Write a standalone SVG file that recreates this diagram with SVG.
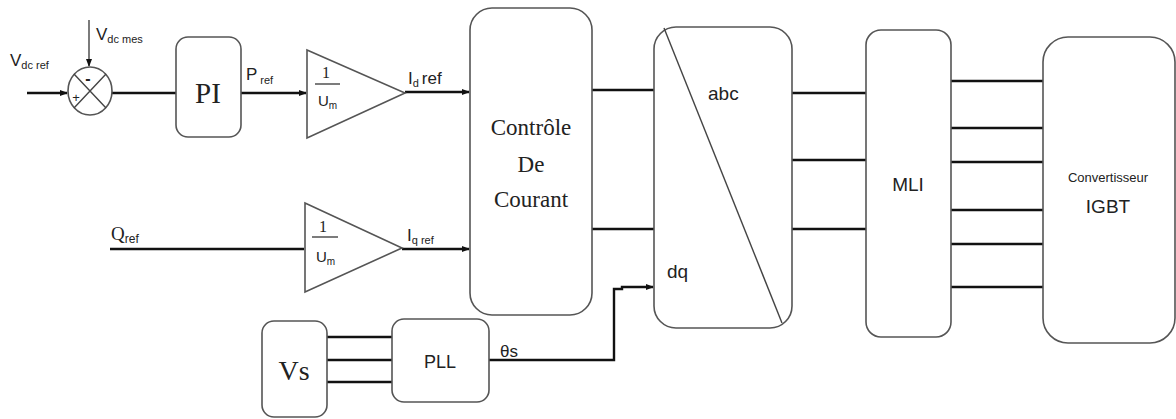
<svg xmlns="http://www.w3.org/2000/svg" width="1176" height="419" viewBox="0 0 1176 419">
<style>
.box{fill:#fff;stroke:#555;stroke-width:1.6}
.w{fill:none;stroke:#111;stroke-width:2.4}
.thin{fill:none;stroke:#444;stroke-width:1.4}
.serif{font-family:"Liberation Serif",serif;fill:#222}
.sans{font-family:"Liberation Sans",sans-serif;fill:#222}
</style>
<defs>
<marker id="ah" markerWidth="8" markerHeight="8" refX="7" refY="4" orient="auto" markerUnits="userSpaceOnUse">
<path d="M0,1 L8,4 L0,7 Z" fill="#111"/>
</marker>
</defs>
<rect width="1176" height="419" fill="#fff"/>

<g id="connectors">
<path class="w" d="M27,93 L67,93" marker-end="url(#ah)"/>
<path class="thin" d="M89,20 L89,66" marker-end="url(#ah)"/>
<path class="w" d="M112,93 L176,93"/>
<path class="w" d="M241,93 L306,93" marker-end="url(#ah)"/>
<path class="w" d="M405,92 L469,92" marker-end="url(#ah)"/>
<path class="w" d="M110,249 L304,249"/>
<path class="w" d="M402,249 L469,249" marker-end="url(#ah)"/>
<path class="w" d="M592,90 L654,90"/>
<path class="w" d="M592,229 L654,229"/>
<path class="w" d="M327,337 L392,337"/>
<path class="w" d="M327,360 L392,360"/>
<path class="w" d="M327,382 L392,382"/>
<path class="w" d="M489,360 L614,360 L614,289 L622,289 L622,287 L653,287" marker-end="url(#ah)"/>
<path class="w" d="M792,93 L866,93"/>
<path class="w" d="M792,160 L866,160"/>
<path class="w" d="M792,229 L866,229"/>
<path class="w" d="M951,81 L1043,81"/>
<path class="w" d="M951,128 L1043,128"/>
<path class="w" d="M951,162 L1043,162"/>
<path class="w" d="M951,210 L1043,210"/>
<path class="w" d="M951,244 L1043,244"/>
<path class="w" d="M951,287 L1043,287"/>
</g>

<g id="labels">
<text x="10" y="66" class="sans" font-size="17">V<tspan font-size="11" dy="3">dc ref</tspan></text>
<text x="96" y="40" class="sans" font-size="17">V<tspan font-size="11" dy="3">dc mes</tspan></text>
<text x="246" y="80" class="sans" font-size="17">P<tspan font-size="11" dy="4" dx="3">ref</tspan></text>
<text x="408" y="84" class="sans" font-size="17">I<tspan font-size="11" dy="3">d</tspan><tspan dy="-3" dx="3">ref</tspan></text>
<text x="407" y="241" class="sans" font-size="17">I<tspan font-size="11" dy="3">q ref</tspan></text>
<text x="111" y="240" class="serif" font-size="19">Q<tspan font-size="12" dy="3" class="sans">ref</tspan></text>
<text x="500" y="357" class="sans" font-size="17">θs</text>
</g>

<g id="sum">
<ellipse cx="90" cy="91" rx="22" ry="24" class="box"/>
<path class="thin" d="M74,74 L106,108 M106,74 L74,108"/>
<text x="88" y="84" class="sans" font-size="16" text-anchor="middle" font-weight="bold">-</text>
<text x="76" y="102" class="sans" font-size="13" text-anchor="middle">+</text>
</g>

<g id="pi">
<rect x="176" y="37" width="65" height="100" rx="12" class="box"/>
<text x="208" y="103" class="serif" font-size="29" text-anchor="middle">PI</text>
</g>

<g id="gain-d">
<path d="M307,50 L405,93 L307,138 Z" class="box"/>
<text x="326" y="78" class="serif" font-size="16" text-anchor="middle">1</text>
<path d="M315,84 L340,84" class="thin"/>
<text x="318" y="106" class="sans" font-size="15">U<tspan font-size="10" dy="3">m</tspan></text>
</g>

<g id="gain-q">
<path d="M305,203 L402,248 L305,292 Z" class="box"/>
<text x="323" y="232" class="serif" font-size="16" text-anchor="middle">1</text>
<path d="M312,237 L338,237" class="thin"/>
<text x="316" y="262" class="sans" font-size="15">U<tspan font-size="10" dy="3">m</tspan></text>
</g>

<g id="controle">
<rect x="470" y="8" width="122" height="307" rx="22" class="box"/>
<text x="531" y="135" class="serif" font-size="23" text-anchor="middle">Contrôle</text>
<text x="531" y="172" class="serif" font-size="23" text-anchor="middle">De</text>
<text x="531" y="207" class="serif" font-size="23" text-anchor="middle">Courant</text>
</g>

<g id="abcdq">
<rect x="654" y="27" width="138" height="301" rx="22" class="box"/>
<path d="M664,28 L782,323" class="thin"/>
<text x="708" y="100" class="sans" font-size="19">abc</text>
<text x="667" y="278" class="sans" font-size="19">dq</text>
</g>

<g id="mli">
<rect x="866" y="30" width="85" height="307" rx="15" class="box"/>
<text x="908" y="191" class="sans" font-size="19" text-anchor="middle">MLI</text>
</g>

<g id="convertisseur">
<rect x="1043" y="37" width="132" height="306" rx="25" class="box"/>
<text x="1108" y="182" class="sans" font-size="13" text-anchor="middle">Convertisseur</text>
<text x="1108" y="213" class="sans" font-size="19" text-anchor="middle">IGBT</text>
</g>

<g id="vs">
<rect x="262" y="321" width="65" height="96" rx="12" class="box"/>
<text x="294" y="380" class="serif" font-size="28" text-anchor="middle">Vs</text>
</g>

<g id="pll">
<rect x="392" y="319" width="97" height="83" rx="12" class="box"/>
<text x="440" y="368" class="sans" font-size="18" text-anchor="middle">PLL</text>
</g>
</svg>
